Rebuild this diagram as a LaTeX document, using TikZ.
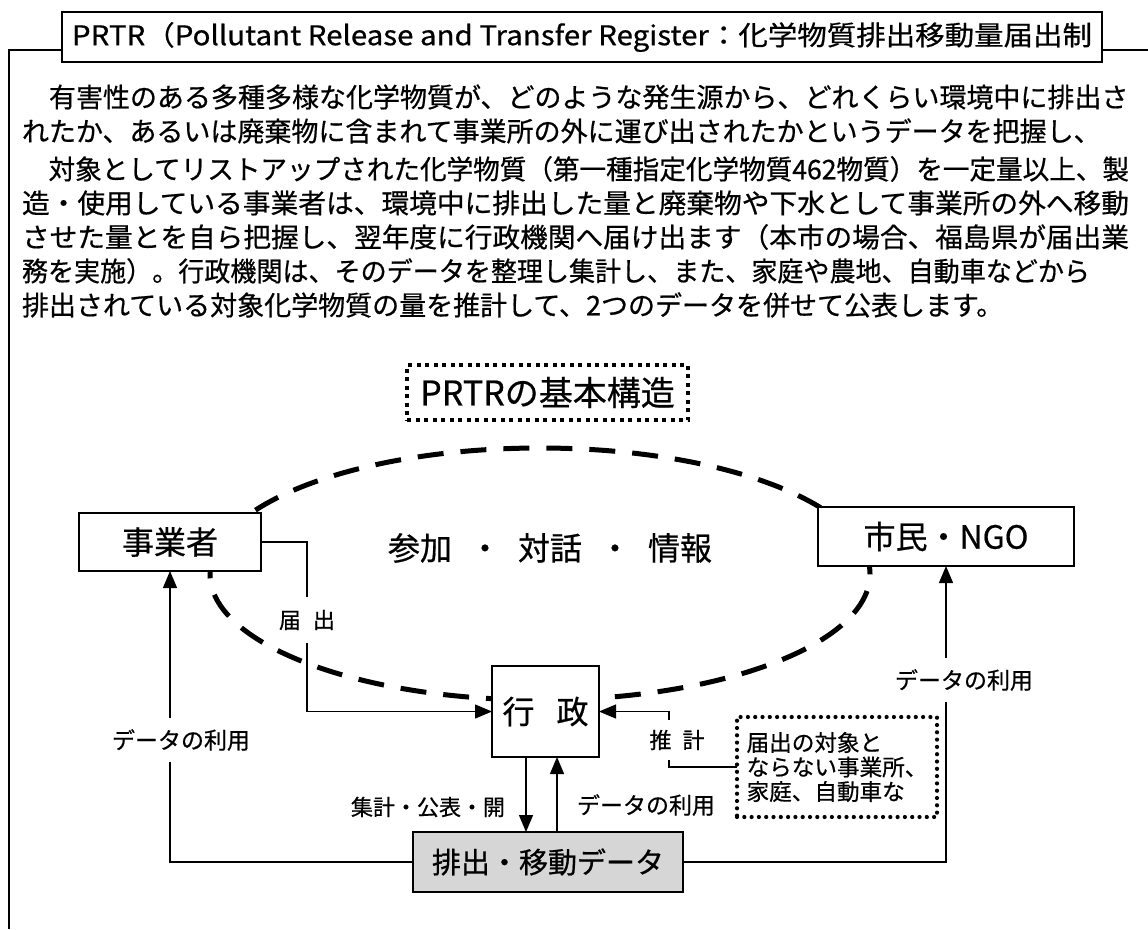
\documentclass[tikz,border=0pt]{standalone}
\usepackage{graphicx}
\usepackage{fontspec}
\setmainfont{Noto Sans CJK JP}[FakeBold=0.6]
\usetikzlibrary{arrows.meta}
\definecolor{boxgray}{HTML}{D6D6D6}
\newcommand\fs[1]{\fontsize{#1}{#1}\selectfont}
\newcommand\fitw[2]{\resizebox{#1}{\height}{#2}}
\begin{document}
\begin{tikzpicture}[x=1pt,y=-1pt,
  every node/.style={inner sep=0pt, outer sep=0pt},
  lbl/.style={font=\fs{22}, inner ysep=11pt},
  body/.style={anchor=west, font=\fs{27}},
  ent/.style={draw, line width=1.3pt, fill=white, font=\fs{32}},
  conn/.style={line width=1.3pt},
  arr/.style={conn, -{Triangle[length=17pt,width=14pt]}},
  bigdash/.style={line width=5pt, dash pattern=on 26pt off 17pt},
  sqdots/.style={draw, line width=4pt, dash pattern=on 4pt off 4.5pt},
  rddots/.style={draw, line width=4.2pt, line cap=round, dash pattern=on 0pt off 7.3pt},
]
\useasboundingbox (0,0) rectangle (1148,929);

% frame and title
\coordinate (fTL) at (9,50);
\coordinate (fBL) at (9,929);
\coordinate (fR) at (1148,50);
\node[draw, line width=1.3pt, fill=white, minimum width=1040pt, minimum height=50pt, font=\fs{27}] (title) at (582,37)
  {\raisebox{4pt}{\fitw{1020pt}{PRTR（Pollutant Release and Transfer Register：化学物質排出移動量届出制}}};
\draw[conn] (title.west |- fTL) -- (fTL) -- (fBL);
\draw[conn] (title.east |- fR) -- (fR);

% body text
\node[body] (p1) at (22,97) {　有害性のある多種多様な化学物質が、どのような発生源から、どれくらい環境中に排出さ};
\node[body] (p2) at (22,131) {れたか、あるいは廃棄物に含まれて事業所の外に運び出されたかというデータを把握し、};
\node[body] (p3) at (22,169) {\fitw{1107pt}{　対象としてリストアップされた化学物質（第一種指定化学物質462物質）を一定量以上、製}};
\node[body] (p4) at (22,203) {\fitw{1107pt}{造・使用している事業者は、環境中に排出した量と廃棄物や下水として事業所の外へ移動}};
\node[body] (p5) at (22,237) {\fitw{1107pt}{させた量とを自ら把握し、翌年度に行政機関へ届け出ます（本市の場合、福島県が届出業}};
\node[body] (p6) at (22,271) {\fitw{1068pt}{務を実施）。行政機関は、そのデータを整理し集計し、また、家庭や農地、自動車などから}};
\node[body] (p7) at (22,305) {排出されている対象化学物質の量を推計して、2つのデータを併せて公表します。};

% structure label
\node[sqdots, minimum width=281pt, minimum height=55pt, font=\fs{34}] (kz) at (547.5,392.5) {PRTRの基本構造};

% ellipse
\draw[bigdash] (540,574) ellipse [x radius=330pt, y radius=126pt];

% entities
\node[ent, minimum width=182pt, minimum height=58pt] (biz) at (170,542) {事業者};
\node[ent, minimum width=256pt, minimum height=59pt] (citizen) at (946,536.5) {市民・NGO};
\node[font=\fs{32}] (talk) at (550,548) {参加\hspace{17pt}・\hspace{17pt}対話\hspace{17pt}・\hspace{17pt}情報};
\node[ent, minimum width=107pt, minimum height=91pt] (gov) at (545.5,711.5) {行\hspace{22pt}政};
\node[ent, fill=boxgray, minimum width=270pt, minimum height=60pt, font=\fs{29}] (data) at (548,862) {排出・移動データ};
\node[rddots, minimum width=200pt, minimum height=100pt, align=left, font=\fontsize{22.6}{24.5}\selectfont] (nonrep) at (837,767)
  {届出の対象と\\ならない事業所、\\家庭、自動車な};

% labels
\node[lbl, inner ysep=13pt] (todoke) at (307,620) {届\hspace{12pt}出};
\node[lbl, inner ysep=10pt] (suikei) at (677,740) {推\hspace{11pt}計};
\node[lbl] (shukei) at (428,807) {集計・公表・開};
\node[lbl, font=\fs{23}] (usemid) at (646,805) {データの利用};
\node[lbl, font=\fs{23}] (useleft) at (181,740) {データの利用};
\node[lbl, font=\fs{23}] (useright) at (964,680) {データの利用};

% connectors
\coordinate (sk) at (669,740);
\draw[conn] (biz.east) -| (todoke.north);
\draw[arr] (todoke.south) |- (gov.west);
\draw[arr] (sk |- suikei.north) |- (gov.east);
\draw[conn] (sk |- suikei.south) |- (nonrep.west);
\draw[arr] ([xshift=-19.5pt]gov.south) -- ([xshift=-19.5pt]gov.south |- data.north);
\draw[arr] ([xshift=11.5pt]gov.south |- data.north) -- ([xshift=11.5pt]gov.south);
\draw[conn] (data.west) -| (biz.south |- useleft.south);
\draw[arr] (biz.south |- useleft.north) -- (biz.south);
\draw[conn] (data.east) -| (citizen.south |- useright.south);
\draw[arr] (citizen.south |- useright.north) -- (citizen.south);
\end{tikzpicture}
\end{document}
